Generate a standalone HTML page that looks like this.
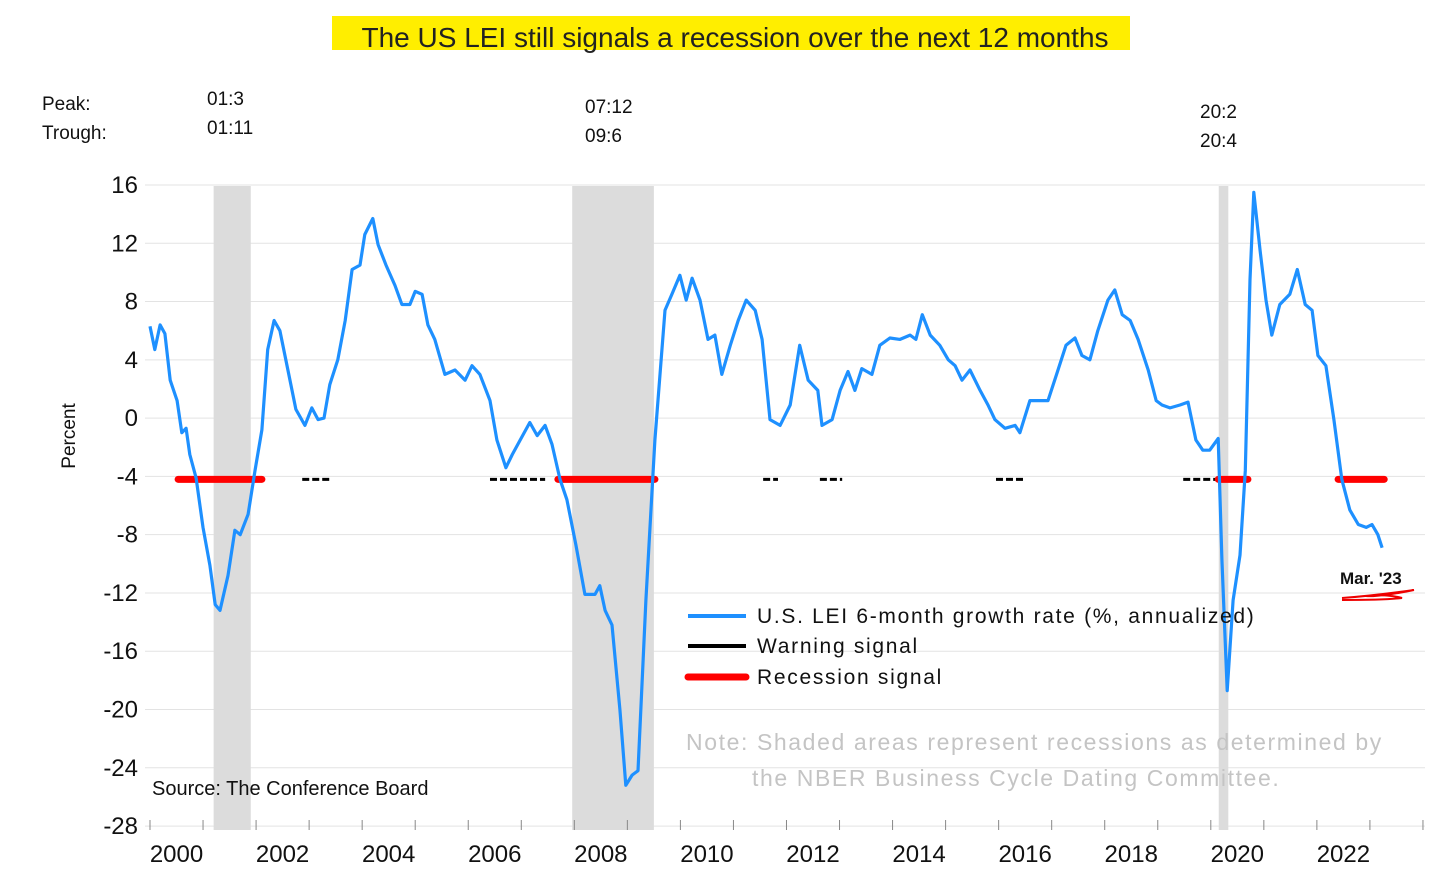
<!DOCTYPE html>
<html><head><meta charset="utf-8"><style>
body{margin:0;background:#fff;width:1449px;height:886px;overflow:hidden;font-family:"Liberation Sans",Arial,sans-serif}
svg text{font-family:"Liberation Sans",Arial,sans-serif}
</style></head><body>
<svg id="chart" width="1449" height="886" xmlns="http://www.w3.org/2000/svg">
<rect x="332" y="16" width="798" height="34" fill="#ffee00"/>
<text x="735" y="47" font-size="28" text-anchor="middle" fill="#222">The US LEI still signals a recession over the next 12 months</text>
<g id="grid"></g><g id="shades"></g><g id="signals"></g><g id="series"></g><g id="axes"></g>
<text x="42" y="110" font-size="19" fill="#111">Peak:</text>
<text x="42" y="139" font-size="19" fill="#111">Trough:</text>
<text x="207" y="105" font-size="19" fill="#111">01:3</text>
<text x="207" y="134" font-size="19" fill="#111">01:11</text>
<text x="585" y="113" font-size="19" fill="#111">07:12</text>
<text x="585" y="142" font-size="19" fill="#111">09:6</text>
<text x="1200" y="118" font-size="19" fill="#111">20:2</text>
<text x="1200" y="147" font-size="19" fill="#111">20:4</text>
<text transform="translate(75,436) rotate(-90)" font-size="19" text-anchor="middle" fill="#111">Percent</text>
<text x="152" y="795" font-size="20" fill="#111">Source: The Conference Board</text>
<text x="686" y="750" font-size="23" letter-spacing="1.6" fill="#c4c4c4">Note: Shaded areas represent recessions as determined by</text>
<text x="752" y="786" font-size="23" letter-spacing="1.6" fill="#c4c4c4">the NBER Business Cycle Dating Committee.</text>
<g>
<line x1="688" y1="616" x2="746" y2="616" stroke="#1e90ff" stroke-width="4"/>
<text x="757" y="623" font-size="21" letter-spacing="1.7" fill="#111">U.S. LEI 6-month growth rate (%, annualized)</text>
<line x1="688" y1="646" x2="746" y2="646" stroke="#000" stroke-width="4"/>
<text x="757" y="653" font-size="21" letter-spacing="1.7" fill="#111">Warning signal</text>
<line x1="688" y1="677" x2="746" y2="677" stroke="#ff0000" stroke-width="7" stroke-linecap="round"/>
<text x="757" y="684" font-size="21" letter-spacing="1.7" fill="#111">Recession signal</text>
</g>
<text x="1340" y="584" font-size="17" font-weight="bold" fill="#111">Mar. '23</text>
<path d="M1342 598 C1370 596 1400 592 1414 590 C1400 593 1375 597 1366 596 C1380 594 1395 596 1402 598 C1385 600 1360 600 1342 600" stroke="#e00" stroke-width="2" fill="none"/>
</svg>
<script>
const dates=[2000.00,2000.09,2000.19,2000.28,2000.38,2000.51,2000.60,2000.68,2000.75,2000.87,2001.00,2001.13,2001.23,2001.32,2001.47,2001.60,2001.70,2001.85,2001.98,2002.11,2002.22,2002.34,2002.45,2002.60,2002.75,2002.92,2003.05,2003.17,2003.28,2003.39,2003.54,2003.68,2003.81,2003.96,2004.05,2004.20,2004.30,2004.45,2004.62,2004.75,2004.90,2005.00,2005.13,2005.24,2005.37,2005.56,2005.75,2005.94,2006.07,2006.22,2006.41,2006.54,2006.71,2006.83,2006.98,2007.16,2007.30,2007.45,2007.58,2007.73,2007.86,2008.03,2008.20,2008.39,2008.48,2008.58,2008.71,2008.86,2008.97,2009.09,2009.20,2009.35,2009.52,2009.71,2009.84,2009.99,2010.11,2010.22,2010.37,2010.52,2010.65,2010.78,2010.94,2011.09,2011.24,2011.41,2011.54,2011.69,2011.88,2012.07,2012.25,2012.41,2012.59,2012.67,2012.86,2013.01,2013.16,2013.29,2013.42,2013.61,2013.76,2013.95,2014.14,2014.33,2014.44,2014.56,2014.71,2014.89,2015.05,2015.18,2015.31,2015.46,2015.65,2015.80,2015.93,2016.12,2016.31,2016.40,2016.59,2016.78,2016.93,2017.12,2017.27,2017.44,2017.57,2017.72,2017.87,2018.06,2018.19,2018.33,2018.48,2018.63,2018.82,2018.97,2019.08,2019.23,2019.42,2019.57,2019.72,2019.85,2019.98,2020.14,2020.21,2020.31,2020.42,2020.55,2020.65,2020.74,2020.81,2020.93,2021.04,2021.15,2021.30,2021.49,2021.63,2021.78,2021.91,2022.02,2022.17,2022.32,2022.47,2022.62,2022.78,2022.93,2023.04,2023.15,2023.23];
const leiValues=[6.3,4.7,6.4,5.8,2.6,1.2,-1.0,-0.7,-2.5,-4.1,-7.5,-10.1,-12.8,-13.2,-10.8,-7.7,-8.0,-6.6,-3.6,-0.8,4.7,6.7,6.0,3.3,0.6,-0.5,0.7,-0.1,0.0,2.3,4.0,6.7,10.2,10.5,12.6,13.7,11.9,10.5,9.1,7.8,7.8,8.7,8.5,6.4,5.4,3.0,3.3,2.6,3.6,3.0,1.2,-1.5,-3.4,-2.5,-1.5,-0.3,-1.2,-0.5,-1.8,-4.2,-5.6,-8.7,-12.1,-12.1,-11.5,-13.2,-14.2,-20.0,-25.2,-24.5,-24.2,-12.5,-1.5,7.4,8.5,9.8,8.1,9.6,8.1,5.4,5.7,3.0,5.0,6.7,8.1,7.4,5.4,-0.1,-0.5,0.9,5.0,2.6,1.9,-0.5,-0.1,1.9,3.2,1.9,3.4,3.0,5.0,5.5,5.4,5.7,5.4,7.1,5.7,5.0,4.0,3.6,2.6,3.3,1.9,0.9,-0.1,-0.7,-0.5,-1.0,1.2,1.2,1.2,3.3,5.0,5.5,4.3,4.0,6.0,8.1,8.8,7.1,6.7,5.4,3.3,1.2,0.9,0.7,0.9,1.1,-1.5,-2.2,-2.2,-1.4,-9.7,-18.7,-12.5,-9.4,-3.6,9.5,15.5,11.5,8.1,5.7,7.8,8.5,10.2,7.8,7.4,4.3,3.6,-0.1,-4.2,-6.3,-7.3,-7.5,-7.3,-8.0,-8.9];
const yTicks=[16,12,8,4,0,-4,-8,-12,-16,-20,-24,-28];
const xLabels=[2000,2002,2004,2006,2008,2010,2012,2014,2016,2018,2020,2022];
const recessionStarts=[2001.2,2007.96,2020.15];
const recessionEnds=[2001.9,2009.5,2020.33];
const redStarts=[2000.53,2007.69,2020.14,2022.40];
const redEnds=[2002.11,2009.52,2020.70,2023.27];
const warnStarts=[2002.87,2006.41,2011.56,2012.63,2015.95,2019.48];
const warnEnds=[2003.43,2007.45,2011.84,2013.05,2016.50,2020.14];
const signalLevel=-4.2;

const NS="http://www.w3.org/2000/svg";
const X=t=>150+(t-2000)*53.04;
const Y=v=>185+(16-v)*14.57;
function mk(tag,attrs,parent){const e=document.createElementNS(NS,tag);for(const k in attrs)e.setAttribute(k,attrs[k]);document.getElementById(parent).appendChild(e);return e;}

yTicks.forEach(v=>{
  const g=mk('line',{x1:145,x2:1425,y1:Y(v),y2:Y(v),stroke:'#e3e3e3','stroke-width':1},'grid');
  
  
  const t=mk('text',{x:138,y:Y(v)+8,'font-size':24,'text-anchor':'end',fill:'#111'},'axes');
  t.textContent=v;
  
  
});
for(let yr=2000;yr<=2024;yr++){
  const tk=mk('line',{x1:X(yr),x2:X(yr),y1:820,y2:830,stroke:'#888','stroke-width':1},'axes');
  
  
}
xLabels.forEach(yr=>{
  const t=mk('text',{x:X(yr+0.5),y:862,'font-size':24,'text-anchor':'middle',fill:'#111'},'axes');
  t.textContent=yr;
  
  
});
recessionStarts.forEach((s,i)=>{
  const r=mk('rect',{x:X(s),y:186,width:X(recessionEnds[i])-X(s),height:644,fill:'#dcdcdc'},'shades');
  
  
});
warnStarts.forEach((s,i)=>{
  const l=mk('line',{x1:X(s),x2:X(warnEnds[i]),y1:Y(signalLevel),y2:Y(signalLevel),stroke:'#000','stroke-width':3,'stroke-dasharray':'7 3'},'signals');
  
  
});
redStarts.forEach((s,i)=>{
  const l=mk('line',{x1:X(s),x2:X(redEnds[i]),y1:Y(signalLevel),y2:Y(signalLevel),stroke:'#ff0000','stroke-width':7,'stroke-linecap':'round'},'signals');
  
  
});
const p=mk('polyline',{points:dates.map((d,i)=>X(d).toFixed(1)+','+Y(leiValues[i]).toFixed(1)).join(' '),fill:'none',stroke:'#1e90ff','stroke-width':3.2,'stroke-linejoin':'round'},'series');


</script>
</body></html>
